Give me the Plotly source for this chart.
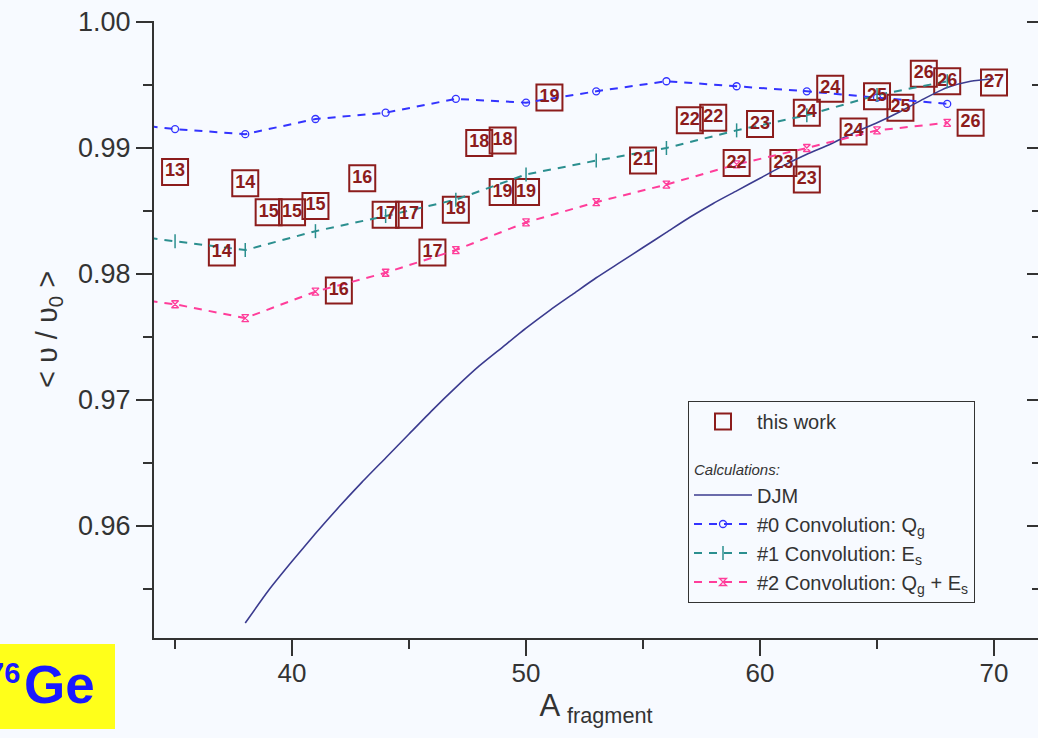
import plotly.graph_objects as go

# Convolution calculations, sampled every 3 mass units
calc_A = [32, 35, 38, 41, 44, 47, 50, 53, 56, 59, 62, 65, 68]
conv_qg = [0.9921, 0.9915, 0.9911, 0.9923, 0.9928, 0.9939, 0.9936,
           0.9945, 0.9953, 0.9949, 0.9945, 0.9940, 0.9935]
conv_es = [0.9833, 0.9826, 0.9819, 0.9834, 0.9846, 0.9859, 0.9879,
           0.9890, 0.9900, 0.9914, 0.9926, 0.9942, 0.9953]
conv_qg_es = [0.9783, 0.9776, 0.9765, 0.9786, 0.9801, 0.9819, 0.9841,
              0.9857, 0.9871, 0.9887, 0.9900, 0.9914, 0.9920]

# DJM model curve
djm_A = list(range(38, 71))
djm_v = [0.9523, 0.9549, 0.9572, 0.9594, 0.9615, 0.9635, 0.9654, 0.9673,
         0.9692, 0.9710, 0.9727, 0.9742, 0.9757, 0.9771, 0.9784, 0.9797,
         0.9809, 0.9821, 0.9833, 0.9845, 0.9856, 0.9866, 0.9876, 0.9886,
         0.9895, 0.9903, 0.9912, 0.9920, 0.9929, 0.9939, 0.9948, 0.9953,
         0.9955]

# Measured fragments: mass number, charge and mean velocity ratio
work_A = [35, 37, 38, 39, 40, 41, 42, 43, 44, 45, 46, 47, 48, 49, 49, 50, 51,
          55, 57, 58, 59, 60, 61, 62, 62, 63, 64, 65, 66, 67, 68, 69, 70]
work_Z = [13, 14, 14, 15, 15, 15, 16, 16, 17, 17, 17, 18, 18, 18, 19, 19, 19,
          21, 22, 22, 22, 23, 23, 23, 24, 24, 24, 25, 25, 26, 26, 26, 27]
work_v = [0.9881, 0.9817, 0.9872, 0.9849, 0.9849, 0.9854, 0.9787, 0.9876,
          0.9847, 0.9847, 0.9817, 0.9851, 0.9904, 0.9906, 0.9865, 0.9865,
          0.9940, 0.9890, 0.9922, 0.9924, 0.9888, 0.9919, 0.9888, 0.9875,
          0.9928, 0.9947, 0.9913, 0.9941, 0.9932, 0.9959, 0.9953, 0.9920,
          0.9952]

Y_TICKS = [0.96, 0.97, 0.98, 0.99, 1.00]
X_TICKS = [40, 50, 60, 70]

BG = "#f7faff"
INK = "#333333"
RED = "#8c1c1c"
NAVY = "#3b3b8f"
BLUE = "#3333ff"
TEAL = "#2b8f8f"
PINK = "#ff3d9a"
FONT = "Liberation Sans, Arial, sans-serif"

W, H = 1038, 738
L, R, T, B = 154, 0, 21, 100
PW, PH = W - L - R, H - T - B

x_range = [34.10, 71.88]
y_range = [0.95111, 1.00008]


def px_x(p):
    return (p - L) / PW


def px_y(p):
    return (H - B - p) / PH


fig = go.Figure()

fig.add_trace(go.Scatter(
    x=work_A, y=work_v, mode="markers", name="this work",
    legendgroup="work",
    marker=dict(symbol="square-open", size=26, color=RED,
                line=dict(width=2, color=RED)),
))

fig.add_trace(go.Scatter(
    x=djm_A, y=djm_v, mode="lines", name="DJM",
    legendgroup="calc",
    legendgrouptitle=dict(text="Calculations:",
                          font=dict(size=15, style="italic", color=INK,
                                    family=FONT)),
    line=dict(color=NAVY, width=1.6, shape="spline", smoothing=0.6),
))

fig.add_trace(go.Scatter(
    x=calc_A, y=conv_qg, mode="lines+markers",
    name="#0 Convolution: Q<sub>g</sub>", legendgroup="calc",
    line=dict(color=BLUE, width=2, dash="8px,7px"),
    marker=dict(symbol="circle-open", size=7, color=BLUE,
                line=dict(width=1.3, color=BLUE)),
))

fig.add_trace(go.Scatter(
    x=calc_A, y=conv_es, mode="lines+markers",
    name="#1 Convolution: E<sub>s</sub>", legendgroup="calc",
    line=dict(color=TEAL, width=2, dash="8px,7px"),
    marker=dict(symbol="line-ns-open", size=10, color=TEAL,
                line=dict(width=1.5, color=TEAL)),
))

fig.add_trace(go.Scatter(
    x=calc_A, y=conv_qg_es, mode="lines+markers",
    name="#2 Convolution: Q<sub>g</sub> + E<sub>s</sub>", legendgroup="calc",
    line=dict(color=PINK, width=2, dash="8px,7px"),
    marker=dict(symbol="hourglass-open", size=7, color=PINK,
                line=dict(width=1.3, color=PINK)),
))

# charge numbers written inside the squares
fig.add_trace(go.Scatter(
    x=work_A, y=work_v, mode="text", yaxis="y2",
    text=[str(z) for z in work_Z], textposition="middle center",
    textfont=dict(family=FONT, size=18, color=RED, weight="bold"),
    showlegend=False, hoverinfo="skip",
))

fig.update_layout(
    width=W, height=H,
    margin=dict(l=L, r=R, t=T, b=B),
    paper_bgcolor=BG, plot_bgcolor=BG,
    font=dict(family=FONT, color=INK),
    showlegend=True,
    legend=dict(
        x=px_x(688), y=px_y(401), xanchor="left", yanchor="top",
        bgcolor=BG, bordercolor=INK, borderwidth=1,
        font=dict(size=20, color=INK, family=FONT),
        itemwidth=58, tracegroupgap=22,
    ),
    xaxis=dict(
        range=x_range, tickvals=X_TICKS,
        ticks="outside", ticklen=16, tickwidth=2, tickcolor=INK,
        minor=dict(dtick=5, tick0=35, ticks="outside", ticklen=9,
                   tickwidth=2, tickcolor=INK),
        showline=True, linewidth=2, linecolor=INK,
        showgrid=False, zeroline=False,
        tickfont=dict(size=26, color=INK), ticklabelstandoff=-5,
        title=dict(text="A <sub>fragment</sub>", standoff=6,
                   font=dict(size=31, color=INK)),
    ),
    yaxis=dict(
        range=y_range, tickvals=Y_TICKS, tickformat=".2f",
        ticks="outside", ticklen=16, tickwidth=2, tickcolor=INK,
        minor=dict(dtick=0.005, tick0=0.955, ticks="outside", ticklen=9,
                   tickwidth=2, tickcolor=INK),
        showline=True, linewidth=2, linecolor=INK,
        showgrid=False, zeroline=False,
        tickfont=dict(size=27, color=INK),
        title=dict(text="< \u03c5 / \u03c5<sub>0</sub> >", standoff=12,
                   font=dict(size=29, color=INK)),
    ),
    yaxis2=dict(
        matches="y", overlaying="y", side="right", range=y_range,
        tickvals=Y_TICKS, showticklabels=False,
        ticks="inside", ticklen=11, tickwidth=2, tickcolor=INK,
        minor=dict(dtick=0.005, tick0=0.955, ticks="inside", ticklen=6,
                   tickwidth=2, tickcolor=INK),
        showline=False, showgrid=False, zeroline=False,
    ),
    shapes=[dict(
        type="rect", xref="paper", yref="paper",
        x0=px_x(0), x1=px_x(115), y0=px_y(729), y1=px_y(644),
        fillcolor="#ffff1a", line=dict(width=0), layer="above",
    )],
    annotations=[
        dict(text="<b>Ge</b>", xref="paper", yref="paper",
             x=px_x(22), y=px_y(684), xanchor="left", yanchor="middle",
             showarrow=False, font=dict(size=53, color="#1a1aff", family=FONT)),
        dict(text="<b>76</b>", xref="paper", yref="paper",
             x=px_x(22), y=px_y(673), xanchor="right", yanchor="middle",
             showarrow=False, font=dict(size=29, color="#1a1aff", family=FONT)),
    ],
)

fig.write_html("out.html")
